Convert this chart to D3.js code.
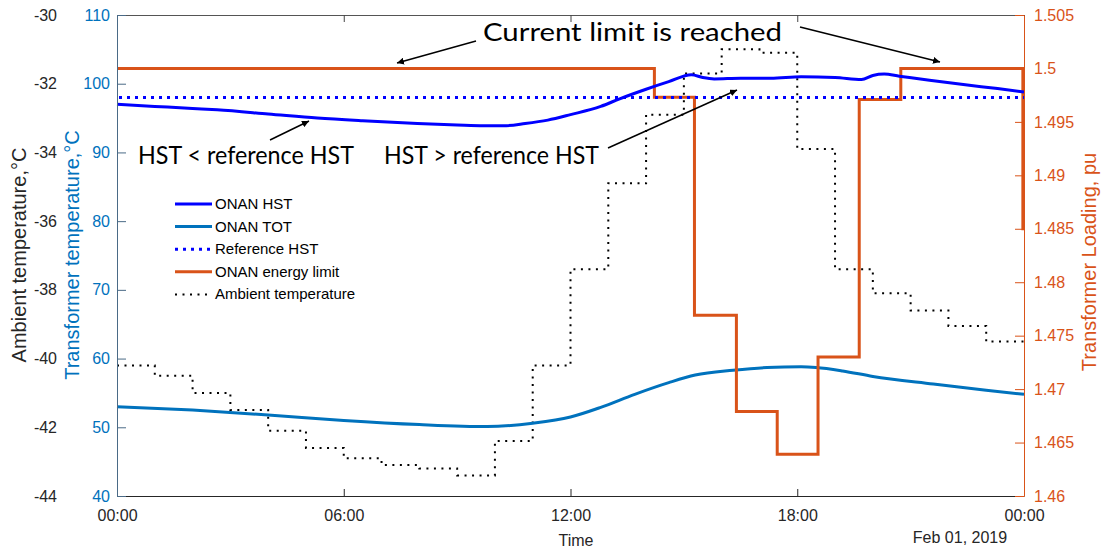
<!DOCTYPE html>
<html>
<head>
<meta charset="utf-8">
<script src="https://cdn.jsdelivr.net/npm/d3@7"></script>
<style>
  body { margin: 0; background: #fff; }
  svg { display: block; }
</style>
</head>
<body>
<div id="chart"></div>
<script>
// ---- data (hours from 00:00) ----
var hstHours = [0, 1, 2, 2.65, 4, 5.3, 6.5, 7.95, 9, 9.7, 10.3, 10.8, 11.4, 12, 12.8, 13.3, 14, 14.6, 15.2, 15.5, 15.8, 16.5, 17.3, 18.1, 19.0, 19.7, 20.0, 20.3, 20.7, 21.5, 22.5, 23.3, 24];
var hstValues = [97.0, 96.7, 96.4, 96.2, 95.6, 95.0, 94.6, 94.2, 94.0, 93.9, 93.9, 94.2, 94.7, 95.5, 96.7, 97.8, 99.2, 100.3, 101.3, 100.9, 100.7, 100.8, 100.8, 101.0, 100.9, 100.6, 101.2, 101.4, 101.1, 100.5, 99.8, 99.3, 98.8];

var totHours = [0, 2, 4, 6, 8, 9.8, 11, 12, 12.8, 13.7, 14.6, 15.3, 16.3, 17.2, 18.1, 18.5, 19.2, 20, 21.6, 23, 24];
var totValues = [53.0, 52.5, 51.8, 51.0, 50.4, 50.1, 50.6, 51.5, 52.9, 54.8, 56.5, 57.6, 58.3, 58.7, 58.8, 58.7, 58.2, 57.4, 56.3, 55.4, 54.8];

var referenceHst = 98;

var limitHours = [0, 14.22, 15.28, 16.39, 17.47, 18.55, 19.64, 20.74, 23.97, 24];
var limitValues = [1.5, 1.4973, 1.4769, 1.4679, 1.4639, 1.4730, 1.4971, 1.5, 1.485, 1.485];

var ambientValues = [-40.2, -40.5, -41.0, -41.5, -42.1, -42.6, -42.9, -43.1, -43.2, -43.4, -42.4, -40.2,
  -37.4, -34.9, -32.9, -31.7, -31.0, -31.1, -33.9, -37.4, -38.1, -38.6, -39.05, -39.5];

var timeTicks = [0, 6, 12, 18, 24];
var timeLabels = ["00:00", "06:00", "12:00", "18:00", "00:00"];
var tempTicks = [40, 50, 60, 70, 80, 90, 100, 110];
var ambientTicks = [-44, -42, -40, -38, -36, -34, -32, -30];
var loadTicks = [1.46, 1.465, 1.47, 1.475, 1.48, 1.485, 1.49, 1.495, 1.5, 1.505];

var legendItems = [
  { name: "ONAN HST", color: "#0000ff", dash: null, w: 3 },
  { name: "ONAN TOT", color: "#0072bd", dash: null, w: 3 },
  { name: "Reference HST", color: "#0000ff", dash: "3,5", w: 3 },
  { name: "ONAN energy limit", color: "#d95319", dash: null, w: 3 },
  { name: "Ambient temperature", color: "#000", dash: "2,5.5", w: 2 }
];

// ---- layout ----
var width = 1105, height = 549;
var plotLeft = 117, plotRight = 1024, plotTop = 15, plotBottom = 496;
var blue = "#0072bd", orange = "#d95319", dark = "#262626";

var svg = d3.select("#chart").append("svg")
  .attr("width", width)
  .attr("height", height)
  .style("font-family", "'Liberation Sans', Arial, sans-serif");

var x = d3.scaleLinear().domain([0, 24]).range([plotLeft, plotRight]);
var yT = d3.scaleLinear().domain([40, 110]).range([plotBottom, plotTop]);
var yA = d3.scaleLinear().domain([-44, -30]).range([plotBottom, plotTop]);
var yL = d3.scaleLinear().domain([1.46, 1.505]).range([plotBottom, plotTop]);

// ---- lines ----
var ambientData = ambientValues.map((v, i) => [i, v]);
ambientData.push([24, ambientValues[ambientValues.length - 1]]);

svg.append("path")
  .datum(ambientData)
  .attr("fill", "none")
  .attr("stroke", "#000")
  .attr("stroke-width", 2)
  .attr("stroke-dasharray", "2,5.5")
  .attr("d", d3.line().x(d => x(d[0])).y(d => yA(d[1])).curve(d3.curveStepAfter));

svg.append("path")
  .datum(totHours.map((h, i) => [h, totValues[i]]))
  .attr("fill", "none")
  .attr("stroke", blue)
  .attr("stroke-width", 3)
  .attr("d", d3.line().x(d => x(d[0])).y(d => yT(d[1])).curve(d3.curveMonotoneX));

svg.append("path")
  .datum(limitHours.map((h, i) => [h, limitValues[i]]))
  .attr("fill", "none")
  .attr("stroke", orange)
  .attr("stroke-width", 3)
  .attr("d", d3.line().x(d => x(d[0])).y(d => yL(d[1])).curve(d3.curveStepAfter));

svg.append("path")
  .datum(hstHours.map((h, i) => [h, hstValues[i]]))
  .attr("fill", "none")
  .attr("stroke", "#0000ff")
  .attr("stroke-width", 3)
  .attr("d", d3.line().x(d => x(d[0])).y(d => yT(d[1])).curve(d3.curveMonotoneX));

svg.append("line")
  .attr("x1", x(0) + 2).attr("x2", x(24))
  .attr("y1", yT(referenceHst)).attr("y2", yT(referenceHst))
  .attr("stroke", "#0000ff")
  .attr("stroke-width", 3)
  .attr("stroke-dasharray", "3,5");

// ---- axes ----
var bottomAxis = svg.append("g")
  .attr("transform", `translate(0,${plotBottom})`)
  .call(d3.axisBottom(x).tickValues(timeTicks).tickSizeInner(-7).tickSizeOuter(0)
    .tickFormat((d, i) => timeLabels[i]).tickPadding(14));
bottomAxis.select(".domain").attr("stroke", dark);
bottomAxis.selectAll("line").attr("stroke", dark);
bottomAxis.selectAll("text").attr("fill", dark).style("font-size", "16px");

var topAxis = svg.append("g")
  .attr("transform", `translate(0,${plotTop})`)
  .call(d3.axisTop(x).tickValues(timeTicks).tickSizeInner(-7).tickSizeOuter(0).tickFormat(""));
topAxis.select(".domain").attr("stroke", "#555");
topAxis.selectAll("line").attr("stroke", "#444");

var leftAxis = svg.append("g")
  .attr("transform", `translate(${plotLeft},0)`)
  .call(d3.axisLeft(yT).tickValues(tempTicks).tickSizeInner(-9).tickSizeOuter(0).tickPadding(7));
leftAxis.select(".domain").attr("stroke", "#4a6a86");
leftAxis.selectAll("line").attr("stroke", "#4a6a86");
leftAxis.selectAll("text").attr("fill", blue).style("font-size", "16px");

var ambAxis = svg.append("g")
  .attr("transform", `translate(57,0)`)
  .call(d3.axisLeft(yA).tickValues(ambientTicks).tickSize(0).tickPadding(0)
    .tickFormat(d => String(d)));
ambAxis.select(".domain").remove();
ambAxis.selectAll("text").attr("fill", dark).style("font-size", "16px");

var rightAxis = svg.append("g")
  .attr("transform", `translate(${plotRight},0)`)
  .call(d3.axisRight(yL).tickValues(loadTicks).tickSizeInner(-9).tickSizeOuter(0)
    .tickFormat(d3.format("~g")).tickPadding(10));
rightAxis.selectAll("path, line").attr("stroke", orange);
rightAxis.selectAll("text").attr("fill", orange).style("font-size", "16px");

// ---- axis titles ----
svg.append("text")
  .attr("transform", "translate(26,255) rotate(-90)")
  .attr("text-anchor", "middle")
  .attr("fill", dark)
  .style("font-size", "20px")
  .text("Ambient temperature,\u00b0C");

svg.append("text")
  .attr("transform", "translate(79,255) rotate(-90)")
  .attr("text-anchor", "middle")
  .attr("fill", blue)
  .style("font-size", "20px")
  .text("Transformer temperature,\u00b0C");

svg.append("text")
  .attr("transform", "translate(1096,262) rotate(-90)")
  .attr("text-anchor", "middle")
  .attr("fill", orange)
  .style("font-size", "20px")
  .text("Transformer Loading, pu");

svg.append("text")
  .attr("x", 576).attr("y", 546)
  .attr("text-anchor", "middle")
  .attr("fill", dark)
  .style("font-size", "16px")
  .text("Time");

svg.append("text")
  .attr("x", 960).attr("y", 543)
  .attr("text-anchor", "middle")
  .attr("fill", dark)
  .style("font-size", "16px")
  .text("Feb 01, 2019");

// ---- legend ----
var legend = svg.append("g").attr("transform", "translate(175,204)");
legendItems.forEach(function (item, i) {
  var g = legend.append("g").attr("transform", `translate(0,${i * 22.6})`);
  g.append("line")
    .attr("x1", 0).attr("x2", 37)
    .attr("stroke", item.color)
    .attr("stroke-width", item.w)
    .attr("stroke-dasharray", item.dash);
  g.append("text")
    .attr("x", 40).attr("y", 5)
    .attr("fill", "#000")
    .style("font-size", "15px")
    .text(item.name);
});

// ---- annotations ----
svg.append("defs").append("marker")
  .attr("id", "arrow")
  .attr("viewBox", "0 0 10 10")
  .attr("refX", 10).attr("refY", 5)
  .attr("markerWidth", 7).attr("markerHeight", 7)
  .attr("markerUnits", "userSpaceOnUse")
  .attr("orient", "auto")
  .append("path")
  .attr("d", "M0,0 L10,5 L0,10 z")
  .attr("fill", "#000");

var notes = svg.append("g")
  .style("font-family", "Lato, 'Open Sans', sans-serif")
  .style("font-size", "25px")
  .attr("fill", "#000");

notes.append("text").attr("x", 483).attr("y", 41)
  .attr("textLength", 299).attr("lengthAdjust", "spacingAndGlyphs")
  .text("Current limit is reached");
notes.append("text").attr("x", 138).attr("y", 164)
  .attr("textLength", 216).attr("lengthAdjust", "spacingAndGlyphs")
  .text("HST < reference HST");
notes.append("text").attr("x", 384).attr("y", 164)
  .attr("textLength", 215).attr("lengthAdjust", "spacingAndGlyphs")
  .text("HST > reference HST");

var arrows = [
  [476, 41, 397, 63],
  [800, 27, 940, 62],
  [270, 140, 309, 121],
  [608, 148, 737, 90]
];
arrows.forEach(function (a) {
  svg.append("line")
    .attr("x1", a[0]).attr("y1", a[1])
    .attr("x2", a[2]).attr("y2", a[3])
    .attr("stroke", "#000")
    .attr("stroke-width", 1.5)
    .attr("marker-end", "url(#arrow)");
});
</script>
</body>
</html>
